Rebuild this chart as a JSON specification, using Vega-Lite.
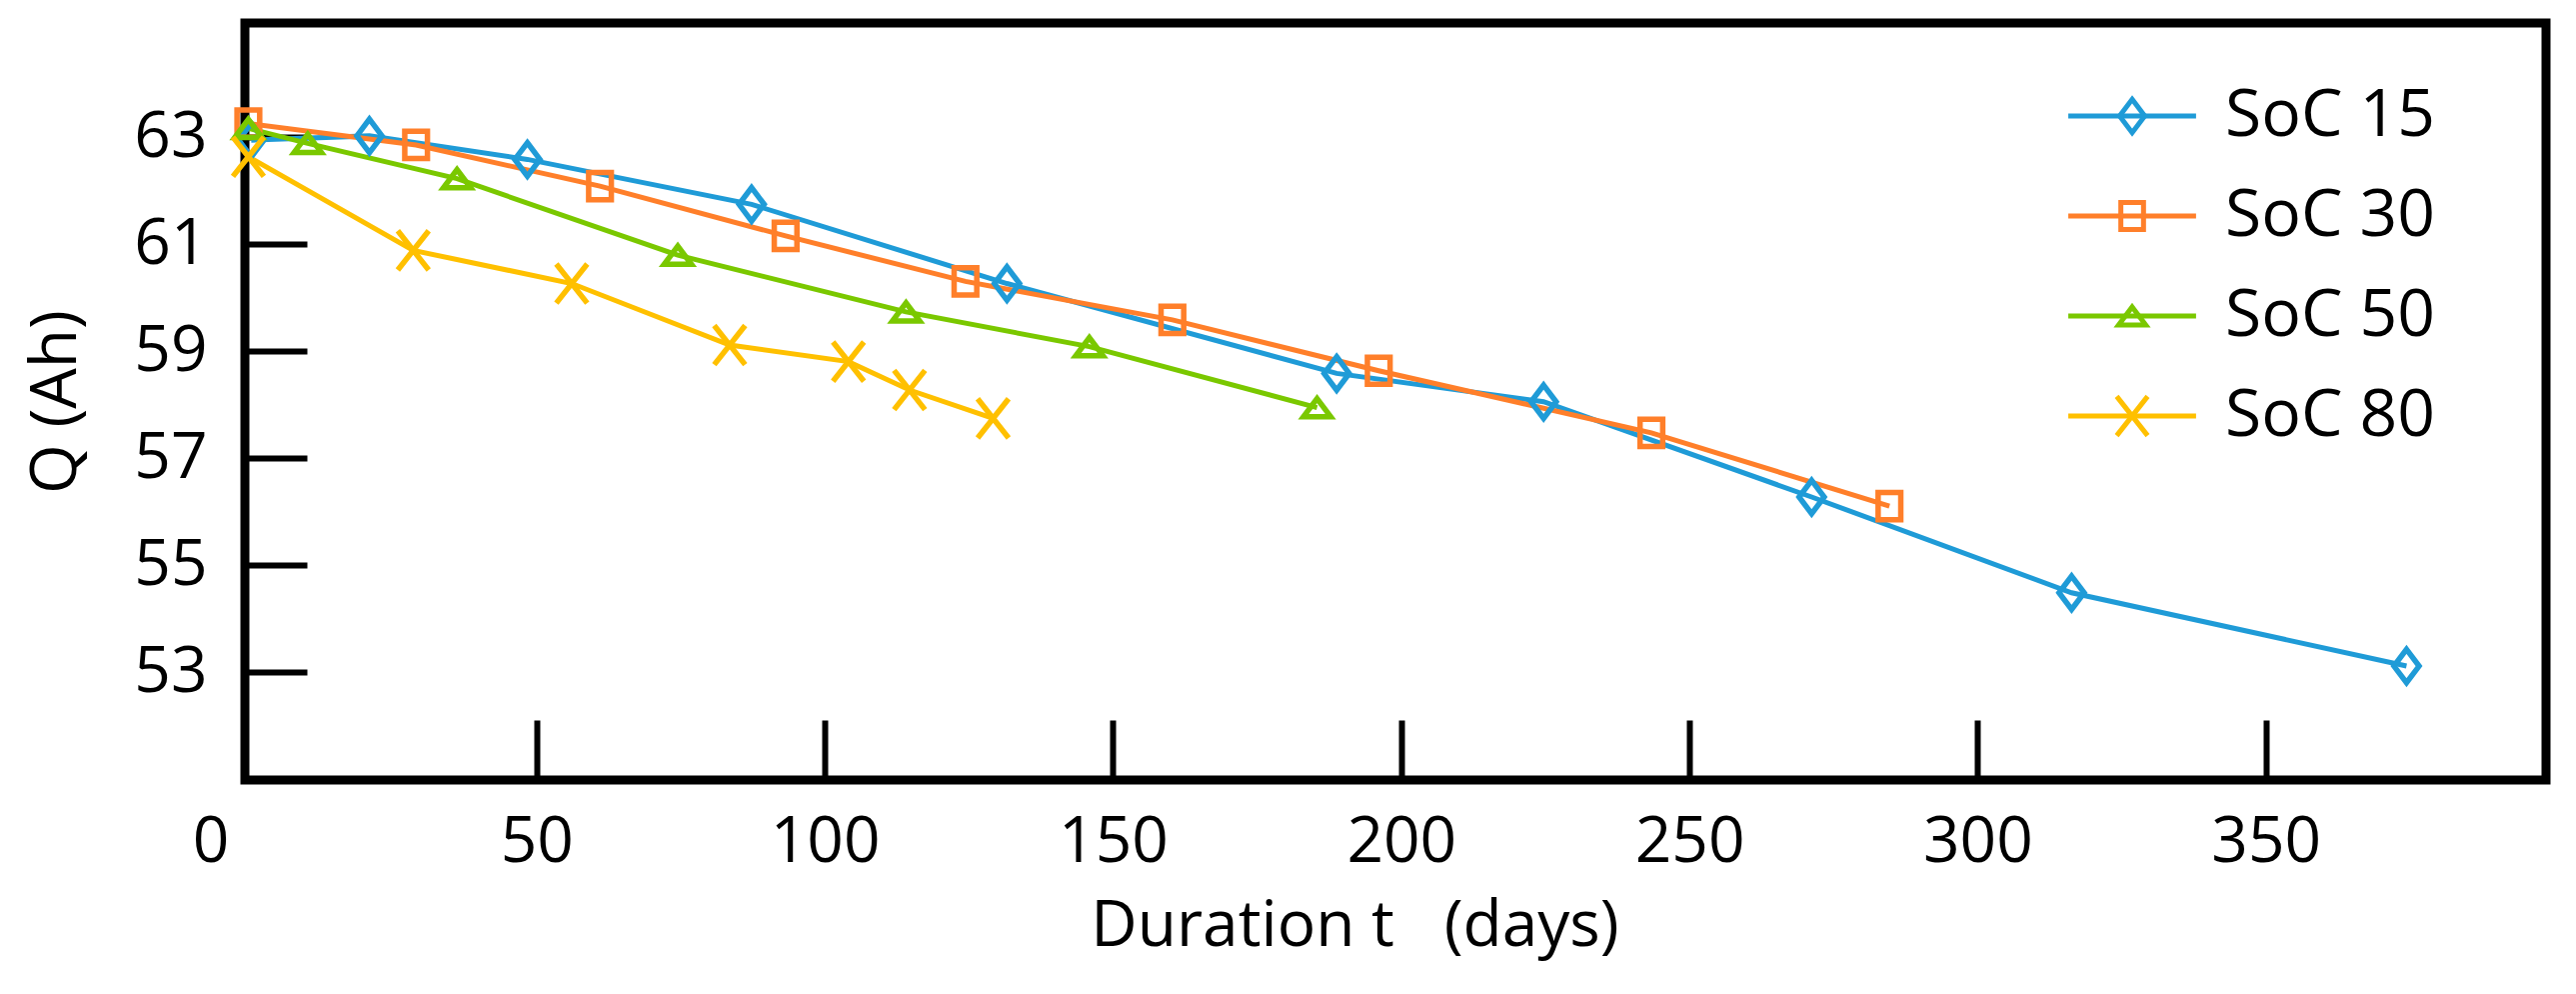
{
  "$schema": "https://vega.github.io/schema/vega-lite/v6.json",
  "autosize": {"type": "none"},
  "padding": {"left": 245, "top": 23, "right": 30, "bottom": 214},
  "width": 2302,
  "height": 757,
  "background": "white",
  "config": {
    "view": {"stroke": "black", "strokeWidth": 9},
    "font": "Open Sans",
    "axis": {
      "domain": false,
      "grid": false,
      "tickColor": "black",
      "tickWidth": 6,
      "labelColor": "black",
      "labelFont": "Open Sans",
      "labelFontSize": 64,
      "titleFont": "Open Sans",
      "titleFontSize": 64,
      "titleFontWeight": "normal",
      "titleColor": "black"
    },
    "legend": {
      "orient": "none",
      "legendX": 1855,
      "legendY": 60,
      "padding": 0,
      "labelFont": "Open Sans",
      "labelFontSize": 66,
      "labelLimit": 0,
      "symbolSize": 1700,
      "symbolStrokeWidth": 5,
      "labelOffset": 60,
      "rowPadding": 34
    }
  },
  "data": {
    "values": [
      {"series": "SoC 15", "t": 0.5, "Q": 62.95},
      {"series": "SoC 15", "t": 21, "Q": 63.03},
      {"series": "SoC 15", "t": 48.4, "Q": 62.59},
      {"series": "SoC 15", "t": 87.3, "Q": 61.75},
      {"series": "SoC 15", "t": 131.6, "Q": 60.27},
      {"series": "SoC 15", "t": 188.8, "Q": 58.59},
      {"series": "SoC 15", "t": 224.7, "Q": 58.06},
      {"series": "SoC 15", "t": 271.2, "Q": 56.28},
      {"series": "SoC 15", "t": 316.3, "Q": 54.49},
      {"series": "SoC 15", "t": 374.4, "Q": 53.12},
      {"series": "SoC 30", "t": 0, "Q": 63.26},
      {"series": "SoC 30", "t": 29.1, "Q": 62.86},
      {"series": "SoC 30", "t": 61.0, "Q": 62.09},
      {"series": "SoC 30", "t": 93.2, "Q": 61.16},
      {"series": "SoC 30", "t": 124.4, "Q": 60.31},
      {"series": "SoC 30", "t": 160.3, "Q": 59.59},
      {"series": "SoC 30", "t": 196.1, "Q": 58.64},
      {"series": "SoC 30", "t": 243.4, "Q": 57.48},
      {"series": "SoC 30", "t": 284.7, "Q": 56.11},
      {"series": "SoC 50", "t": 0, "Q": 63.17},
      {"series": "SoC 50", "t": 10.3, "Q": 62.89},
      {"series": "SoC 50", "t": 36.2, "Q": 62.23},
      {"series": "SoC 50", "t": 74.5, "Q": 60.80},
      {"series": "SoC 50", "t": 114.1, "Q": 59.74},
      {"series": "SoC 50", "t": 145.9, "Q": 59.09},
      {"series": "SoC 50", "t": 185.4, "Q": 57.95},
      {"series": "SoC 80", "t": 0, "Q": 62.64},
      {"series": "SoC 80", "t": 28.6, "Q": 60.89},
      {"series": "SoC 80", "t": 56.1, "Q": 60.27},
      {"series": "SoC 80", "t": 83.5, "Q": 59.12},
      {"series": "SoC 80", "t": 104.1, "Q": 58.81},
      {"series": "SoC 80", "t": 114.7, "Q": 58.28},
      {"series": "SoC 80", "t": 129.2, "Q": 57.75}
    ]
  },
  "transform": [{"calculate": "datum.series", "as": "marker"}],
  "encoding": {
    "x": {
      "field": "t",
      "type": "quantitative",
      "scale": {"domain": [-0.6, 398.6], "nice": false, "zero": false},
      "axis": {
        "values": [0, 50, 100, 150, 200, 250, 300, 350],
        "tickSize": -60,
        "tickOpacity": {"condition": {"test": "datum.value === 0", "value": 0}, "value": 1},
        "labelOffset": {"condition": {"test": "datum.value === 0", "value": -38}, "value": 0},
        "labelPadding": 90,
        "title": "Duration t\u00a0\u00a0 (days)",
        "titlePadding": 20,
        "titleX": 1110
      }
    },
    "y": {
      "field": "Q",
      "type": "quantitative",
      "scale": {"domain": [50.99, 65.14], "nice": false, "zero": false},
      "axis": {
        "values": [53, 55, 57, 59, 61, 63],
        "tickSize": -62,
        "labelPadding": 100,
        "title": "Q (Ah)",
        "titlePadding": 45
      }
    }
  },
  "layer": [
    {
      "mark": {"type": "line", "strokeWidth": 5},
      "encoding": {
        "stroke": {
          "field": "series",
          "type": "nominal",
          "scale": {"domain": ["SoC 15", "SoC 30", "SoC 50", "SoC 80"], "range": ["#1f9bd7", "#ff7f2a", "#7ac800", "#ffc000"]},
          "legend": {
            "title": null,
            "symbolType": "M-3.1,0H3.1",
            "labelColor": "black"
          }
        }
      }
    },
    {
      "mark": {"type": "point", "filled": false, "size": 1700, "strokeWidth": 5.5, "opacity": 1},
      "encoding": {
        "color": {
          "field": "marker",
          "type": "nominal",
          "scale": {"domain": ["SoC 80", "SoC 50", "SoC 30", "SoC 15"], "range": ["#ffc000", "#7ac800", "#ff7f2a", "#1f9bd7"]},
          "legend": {
            "title": null,
            "values": ["SoC 15", "SoC 30", "SoC 50", "SoC 80"],
            "labelColor": "transparent"
          }
        },
        "shape": {
          "field": "marker",
          "type": "nominal",
          "scale": {"domain": ["SoC 80", "SoC 50", "SoC 30", "SoC 15"], "range": ["M-0.75,-0.95L0.75,0.95M-0.75,0.95L0.75,-0.95", "M0,-0.44L0.66,0.44H-0.66Z", "M-0.55,-0.66H0.55V0.66H-0.55Z", "M0,-0.81L0.61,0L0,0.81L-0.61,0Z"]},
          "legend": {
            "title": null,
            "values": ["SoC 15", "SoC 30", "SoC 50", "SoC 80"],
            "labelColor": "transparent"
          }
        }
      }
    }
  ]
}
